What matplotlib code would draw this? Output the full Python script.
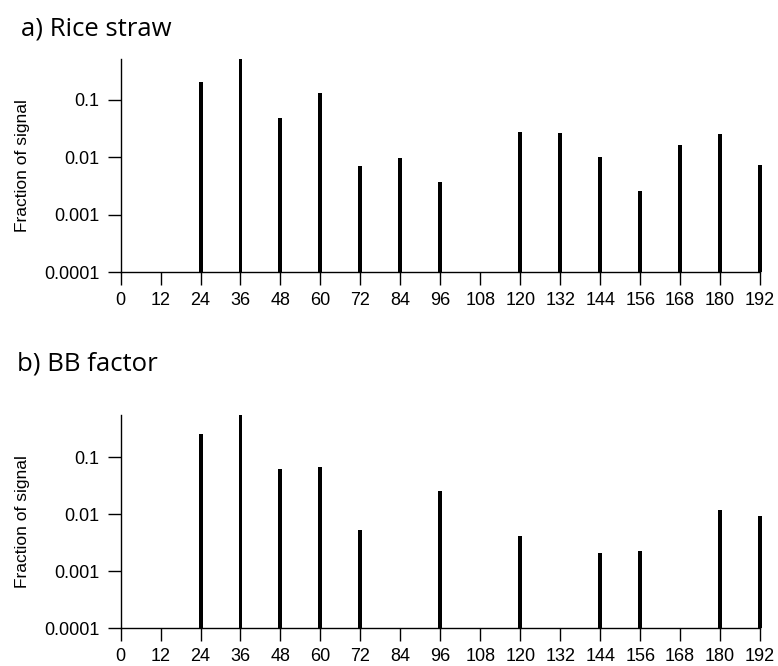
import numpy as np
from matplotlib import pyplot as plt

# mass (x) positions and fractions of signal
masses = [0, 12, 24, 36, 48, 60, 72, 84, 96, 108, 120, 132, 144, 156, 168, 180, 192]

rice_masses = [24, 36, 48, 60, 72, 84, 96, 120, 132, 144, 156, 168, 180, 192]
rice_frac = [0.20, 0.5, 0.047, 0.13, 0.0070, 0.0098, 0.0037, 0.027, 0.026,
             0.010, 0.0026, 0.0164, 0.025, 0.0073]

bb_masses = [24, 36, 48, 60, 72, 96, 120, 144, 156, 180, 192]
bb_frac = [0.26, 0.55, 0.062, 0.069, 0.0054, 0.0256, 0.0042, 0.0021, 0.0023,
           0.0118, 0.0094]

y_ticks = [0.0001, 0.001, 0.01, 0.1]
y_tick_labels = ['0.0001', '0.001', '0.01', '0.1']

panels = [
    ('a) Rice straw', rice_masses, rice_frac, 0.5, [0.155, 0.591, 0.822, 0.320], (0.027, 0.9474)),
    ('b) BB factor', bb_masses, bb_frac, 0.55, [0.155, 0.0566, 0.822, 0.320], (0.022, 0.4444)),
]

fig = plt.figure(figsize=(7.78, 6.66), dpi=100)
plt.rcParams['font.family'] = ['Liberation Sans', 'DejaVu Sans']

for title, xs, ys, ytop, rect, title_pos in panels:
    ax = fig.add_axes(rect)
    ax.bar(xs, np.array(ys) - 0.0001, bottom=0.0001, width=1.2, color='black', clip_on=False)
    ax.set_yscale('log')
    ax.set_ylim(0.0001, ytop)
    ax.set_xlim(0, 192)
    ax.set_xticks(masses)
    ax.set_xticklabels([str(m) for m in masses])
    ax.set_yticks(y_ticks)
    ax.set_yticklabels(y_tick_labels)
    ax.minorticks_off()
    ax.tick_params(direction='out', length=9.4, width=1.0, labelsize=13, pad=5)
    ax.tick_params(axis='y', pad=6)
    for side in ['top', 'right']:
        ax.spines[side].set_visible(False)
    for side in ['left', 'bottom']:
        ax.spines[side].set_linewidth(1.0)
    ax.set_ylabel('Fraction of signal', fontsize=12.5, labelpad=10)
    fig.text(title_pos[0], title_pos[1], title, fontsize=18.5, family='Open Sans', va='baseline')

plt.savefig('out.png', dpi=100)
